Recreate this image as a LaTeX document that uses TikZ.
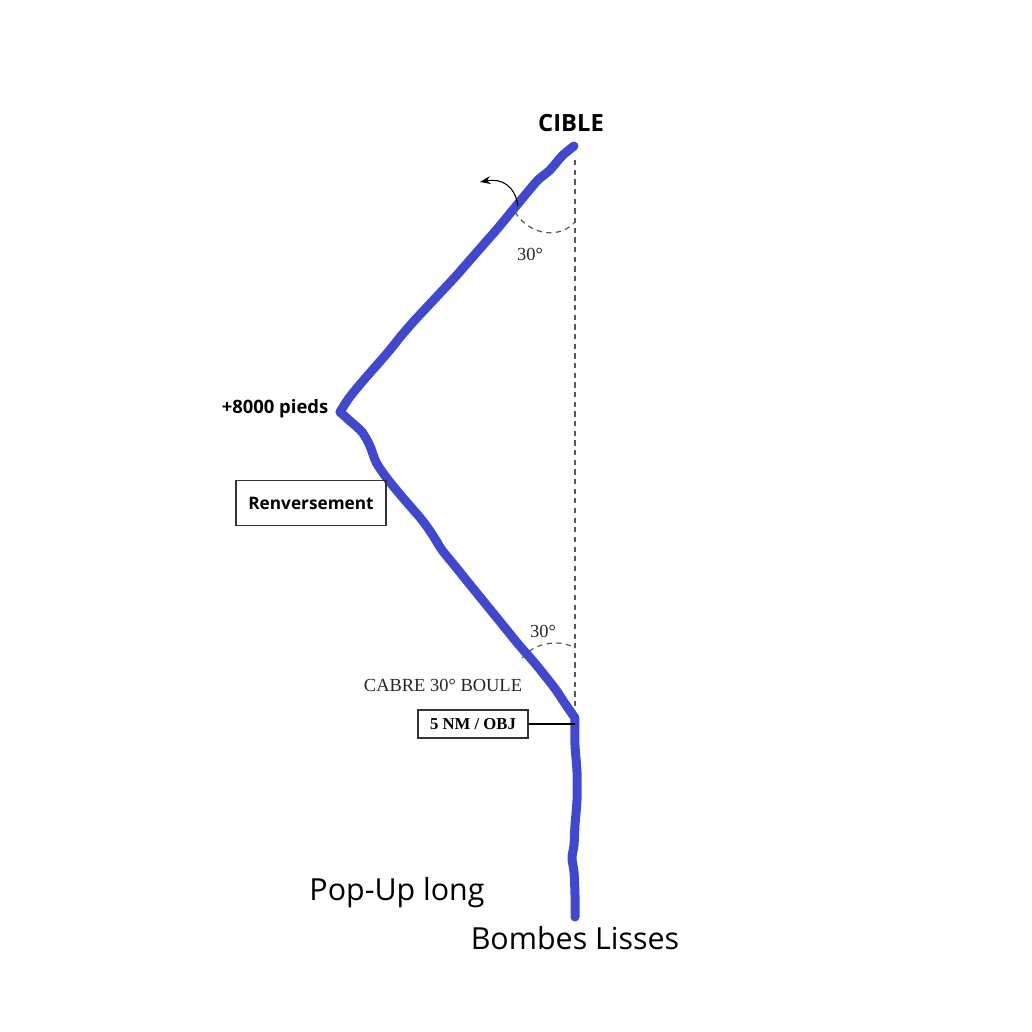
\documentclass[tikz,border=0pt]{standalone}
\usepackage{fontspec}
\setmainfont{Liberation Serif}
\newfontfamily\labelsans{Open Sans}
\usetikzlibrary{arrows.meta, positioning}
\definecolor{flightblue}{RGB}{64,72,204}
\tikzset{
  flight/.style={draw=flightblue, line width=0.18cm, line cap=round, line join=round},
  refline/.style={draw=black!65, line width=0.7pt, dash pattern=on 3pt off 2.5pt},
  anglearc/.style={draw=black!65, line width=0.7pt, dash pattern=on 3pt off 2.5pt},
  tag/.style={font=\labelsans\bfseries\fontsize{10.5}{12}\selectfont, inner sep=1pt},
  tagbox/.style={draw=black!80, line width=0.6pt, font=\labelsans\bfseries\fontsize{9.8}{12}\selectfont,
    minimum width=3cm, minimum height=0.9cm, inner sep=1pt},
  serifnote/.style={font=\fontsize{10.5}{12}\selectfont, text=black!85, inner sep=1pt},
  objbox/.style={draw=black!80, line width=0.6pt, font=\bfseries\fontsize{9.5}{11}\selectfont,
    minimum width=2.2cm, minimum height=0.56cm, inner sep=1pt},
  title/.style={font=\labelsans\fontsize{17.3}{20}\selectfont, inner sep=1pt},
  arr/.style={-{Stealth[length=6pt]}, line width=0.6pt},
}

\begin{document}
\begin{tikzpicture}[x=0.02cm, y=-0.02cm]
  \useasboundingbox (0,0) rectangle (1032,1032);

  % ── key points ────────────────────────────────────────────────────────────
  \coordinate (tgt)    at (574,146);
  \coordinate (apex)   at (340,412);
  \coordinate (pull)   at (575,720);
  \coordinate (start)  at (575,917);
  \coordinate (reftop) at (575,160);
  \coordinate (turn)   at (518,206);
  \coordinate (turnto) at (480,182);

  % ── reference line and angles ─────────────────────────────────────────────
  \draw[refline] (reftop) -- (pull);
  \draw[anglearc] (515,212) .. controls (530,236) and (560,239) .. (575,222);
  \draw[anglearc] (522,658) .. controls (535,642) and (560,639) .. (575,648);

  % ── flight path ───────────────────────────────────────────────────────────
  \draw[flight] plot[smooth, tension=0.5] coordinates {
    (574,146) (562,156) (550,170) (538,180) (526,194)
    (512,211) (498,228) (484,244) (470,260) (456,276) (442,291)
    (428,306) (414,321) (401,336) (389,351) (376,366) (362,382)
    (349,398) (340,412)};
  \draw[flight] plot[smooth, tension=0.5] coordinates {
    (340,412) (350,421) (362,432) (370,446) (376,462) (386,477) (398,492)
    (410,506) (422,520) (432,534) (442,550) (455,566) (467,581) (480,597)
    (493,613) (506,629) (519,645) (533,661) (546,677) (556,690) (566,705)
    (575,718)};
  \draw[flight] plot[smooth, tension=0.5] coordinates {
    (575,720) (575,745) (577,772) (577,800) (575,825) (574,845) (572,858)
    (574,872) (575,895) (575,917)};

  % ── turn arrow ────────────────────────────────────────────────────────────
  \draw[arr] (turn) .. controls (515,186) and (502,178) .. (turnto);

  % ── labels ────────────────────────────────────────────────────────────────
  \node[font=\labelsans\bfseries\fontsize{13.5}{16}\selectfont] (cible) at (571,123) {CIBLE};
  \node[tag]       (alt)    at (275,409) {+8000 pieds};
  \node[tagbox]    (renv)   at (311,503) {Renversement};
  \node[serifnote] (ang1)   at (530,254) {30°};
  \node[serifnote] (ang2)   at (543,631) {30°};
  \node[serifnote] (cabre)  at (443,685) {CABRE 30° BOULE};
  \node[objbox]    (obj)    at (473,724) {5 NM / OBJ};
  \node[title]     (popup)  at (397,893) {Pop-Up long};
  \node[title]     (bombes) at (575,938) {Bombes Lisses};

  % ── edges ─────────────────────────────────────────────────────────────────
  \draw[line width=0.6pt] (obj.east) -- (obj.east -| pull);

\end{tikzpicture}
\end{document}
